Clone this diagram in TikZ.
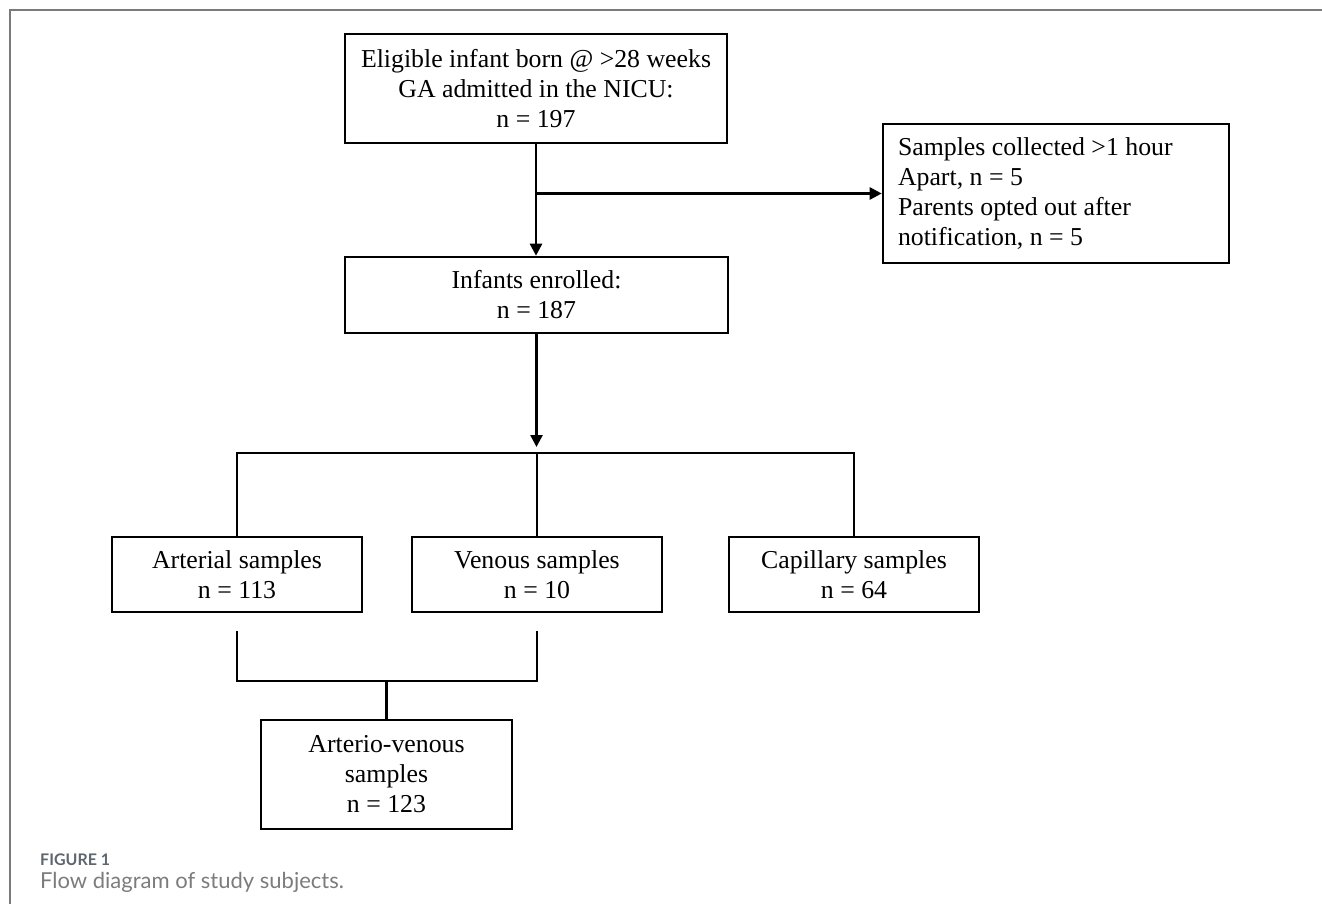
\documentclass[tikz,border=0pt]{standalone}
\usepackage{fontspec}
\setmainfont{Liberation Serif}
\newfontfamily\capfont{Lato}
\usetikzlibrary{arrows.meta}
\definecolor{framegray}{HTML}{7A7A7A}
\definecolor{capgray}{HTML}{5E6670}
\definecolor{captxt}{HTML}{7C7C7C}
\tikzset{
  box/.style={draw=black, line width=2.6pt, fill=white, align=center, inner sep=0pt,
    font=\fontsize{25.8}{30}\selectfont},
  conn/.style={line width=2.6pt},
  arr/.style={line width=2.6pt, -{Triangle[length=12pt,width=12pt]}},
  frame/.style={draw=framegray, line width=1.6pt}
}
\begin{document}
\begin{tikzpicture}[x=1pt,y=-1pt]
\useasboundingbox (0,0) rectangle (1322,904);
\draw[frame] (10,904) -- (10,10) -- (1322,10);

\node[box, minimum width=382pt, minimum height=109pt] (top) at (536,88.5)
  {Eligible infant born @ >28 weeks\\GA admitted in the NICU:\\n = 197};
\node[box, minimum width=346pt, minimum height=139pt, text width=316pt, align=flush left] (excl) at (1056,193.5)
  {Samples collected >1 hour\\Apart, n = 5\\Parents opted out after\\notification, n = 5};
\node[box, minimum width=383pt, minimum height=76pt] (enr) at (536.5,295)
  {Infants enrolled:\\n = 187};
\node[box, minimum width=250pt, minimum height=75pt] (art) at (237,574.5)
  {Arterial samples\\n = 113};
\node[box, minimum width=250pt, minimum height=75pt] (ven) at (537,574.5)
  {Venous samples\\n = 10};
\node[box, minimum width=250pt, minimum height=75pt] (cap) at (854,574.5)
  {Capillary samples\\n = 64};
\node[box, minimum width=251pt, minimum height=109pt] (av) at (386.5,774.5)
  {Arterio-venous\\samples\\n = 123};

\coordinate (bar) at (537,453);
\coordinate (tipb) at (537,447);
\coordinate (jn) at (386.5,681);

\draw[arr] (top.south) -- (top.south |- enr.north);
\draw[arr] (top.south |- excl.west) -- (excl.west);
\draw[arr] (enr.south) -- (enr.south |- tipb);
\draw[conn] (art.north) -- (art.north |- bar) -- (cap.north |- bar) -- (cap.north);
\draw[conn] (ven.north |- bar) -- (ven.north);
\draw[conn] ([yshift=-18pt]art.south) -- (art.south |- jn) -- (ven.south |- jn) -- ([yshift=-18pt]ven.south);
\draw[conn] (jn) -- (av.north);

\node[anchor=base west, inner sep=0pt, text=capgray, font=\capfont\bfseries\fontsize{16}{19}\selectfont] (figlbl) at (40,865) {FIGURE 1};
\node[anchor=base west, inner sep=0pt, text=captxt, font=\capfont\fontsize{22}{26}\selectfont] (figcap) at (40,888) {Flow diagram of study subjects.};
\end{tikzpicture}
\end{document}
